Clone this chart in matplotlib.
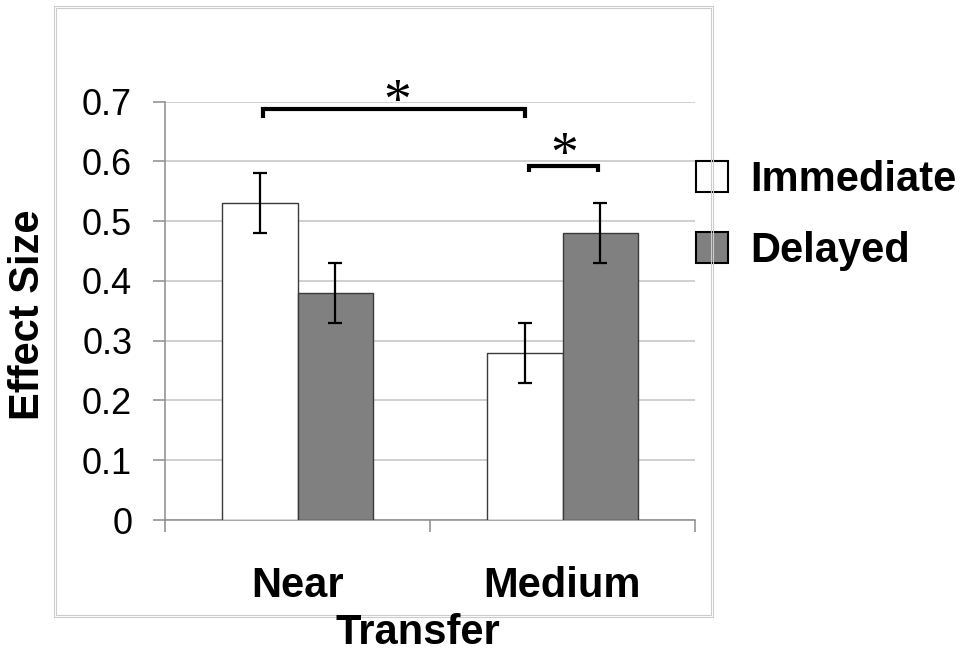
import numpy as np
import matplotlib.pyplot as plt
from matplotlib.patches import Rectangle

# data
categories = ["Near", "Medium"]
immediate = [0.53, 0.28]
delayed = [0.38, 0.48]
immediate_err = [0.05, 0.05]
delayed_err = [0.05, 0.05]
yticks = [0, 0.1, 0.2, 0.3, 0.4, 0.5, 0.6, 0.7]
ytick_labels = ["0", "0.1", "0.2", "0.3", "0.4", "0.5", "0.6", "0.7"]

# significance brackets: (x_left, x_right, y_bar, y_leg_bottom), star (x, y)
sig_brackets = [(-0.13, 0.857, 0.687, 0.673), (0.875, 1.134, 0.593, 0.582)]
sig_stars = [(0.377, 0.696), (1.007, 0.607)]

plt.rcParams["font.family"] = ["Liberation Sans", "DejaVu Sans"]

fig = plt.figure(figsize=(9.61, 6.54), dpi=100)
ax = fig.add_axes([165 / 961, 1 - 520 / 654, 530 / 961, 418.3 / 654])

# outer chart frame (double thin gray line)
fig.patches.append(Rectangle((54.3 / 961, 1 - 617 / 654), (713 - 54.3) / 961, (617 - 6.3) / 654,
                             transform=fig.transFigure, fill=False, edgecolor="#cccccc", linewidth=0.8))
fig.patches.append(Rectangle((56.3 / 961, 1 - 615 / 654), (711 - 56.3) / 961, (615 - 8.3) / 654,
                             transform=fig.transFigure, fill=False, edgecolor="#cccccc", linewidth=0.8))

x = np.arange(len(categories))
w = 0.285
b1 = ax.bar(x - w / 2, immediate, w, color="white", edgecolor="#3a3a3a", linewidth=1.0,
            label="Immediate", zorder=3)
b2 = ax.bar(x + w / 2, delayed, w, color="#808080", edgecolor="#3a3a3a", linewidth=1.0,
            label="Delayed", zorder=3)
ax.errorbar(x - w / 2, immediate, yerr=immediate_err, fmt="none", ecolor="black",
            elinewidth=1.6, capsize=4.7, capthick=1.6, zorder=4)
ax.errorbar(x + w / 2, delayed, yerr=delayed_err, fmt="none", ecolor="black",
            elinewidth=1.6, capsize=4.7, capthick=1.6, zorder=4)

# brackets and stars
for xl, xr, yb, yl in sig_brackets:
    ax.plot([xl, xl, xr, xr], [yl, yb, yb, yl], color="black", linewidth=3.0,
            solid_joinstyle="miter", solid_capstyle="butt", clip_on=False, zorder=5)
for sx, sy in sig_stars:
    ax.text(sx, sy, "*", ha="center", va="center", fontsize=40,
            family="Liberation Serif", clip_on=False)

ax.set_xlim(-0.5, 1.5)
ax.set_ylim(0, 0.7)
ax.set_yticks(yticks)
ax.set_yticklabels(ytick_labels, fontsize=26)
ax.set_xticks(x)
ax.set_xticklabels(categories, fontsize=30, fontweight="bold")
ax.set_xticks([-0.5, 0.5, 1.5], minor=True)

ax.tick_params(axis="y", length=8.6, width=1.1, color="#8c8c8c", pad=15)
ax.tick_params(axis="x", which="major", length=0, pad=33)
ax.tick_params(axis="x", which="minor", length=8.6, width=1.1, color="#8c8c8c")

ax.grid(axis="y", color="#c4c4c4", linewidth=1.1, zorder=0)
ax.set_axisbelow(True)
for side in ["top", "right"]:
    ax.spines[side].set_visible(False)
for side in ["left", "bottom"]:
    ax.spines[side].set_color("#8c8c8c")
    ax.spines[side].set_linewidth(1.1)

fig.text(28 / 961, 1 - 315 / 654, "Effect Size", rotation=90, ha="center", va="center",
         fontsize=30, fontweight="bold")
fig.text(418 / 961, 1 - 644 / 654, "Transfer", ha="center", va="baseline",
         fontsize=30, fontweight="bold")

leg = ax.legend(handles=[b1, b2], loc="upper left", bbox_to_anchor=(696 / 961, 1 - 160 / 654),
                bbox_transform=fig.transFigure, frameon=False, borderpad=0, borderaxespad=0,
                handlelength=0.77, handleheight=0.77, handletextpad=0.53, labelspacing=0.75,
                prop={"size": 30, "weight": "bold"})
for h in leg.legend_handles:
    h.set_edgecolor("black")
    h.set_linewidth(1.5)

fig.savefig("out.png", dpi=100)
